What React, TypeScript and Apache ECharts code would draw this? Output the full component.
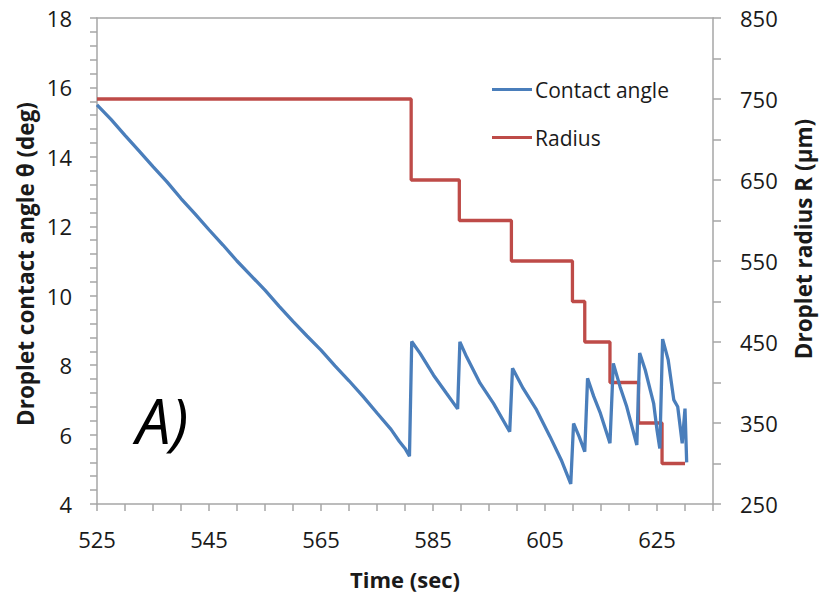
import React, { useEffect, useRef } from "react";
import * as echarts from "echarts";

// Contact angle (deg) vs time (sec)
const angleTimes = [
  525, 527.5, 530, 532.5, 535, 537.5, 540, 542.5, 545, 547.5, 550, 552.5, 555, 557.5, 560,
  562.5, 565, 567.5, 570, 572.5, 575, 577.5, 579, 580, 580.8,
  581.2, 582.7, 585.1, 587.4, 589.4,
  589.8, 591.0, 593.4, 595.8, 598.7,
  599.2, 601.1, 603.5, 605.9, 607.9, 609.6,
  610.1, 611.1, 612.1,
  612.6, 613.7, 614.9, 616.6,
  617.2, 618.4, 619.6, 621.4,
  621.9, 622.9, 623.8, 624.4, 625.0, 625.5,
  626.0, 627.0, 628.0, 628.7, 629.5,
  630.0, 630.3,
];
const angleValues = [
  15.5, 15.08, 14.62, 14.17, 13.72, 13.28, 12.8, 12.36, 11.9, 11.46, 11.0, 10.58, 10.16, 9.7, 9.26,
  8.84, 8.43, 7.98, 7.55, 7.1, 6.62, 6.15, 5.8, 5.6, 5.38,
  8.68, 8.34, 7.71, 7.19, 6.74,
  8.67, 8.24, 7.48, 6.9, 6.08,
  7.91, 7.33, 6.71, 5.94, 5.27, 4.58,
  6.32, 5.94, 5.51,
  7.62, 7.1, 6.61, 5.75,
  8.05, 7.38, 6.8, 5.7,
  8.35, 7.86, 7.28, 6.9, 6.13, 5.6,
  8.75, 8.15, 7.0, 6.8, 5.75,
  6.75, 5.2,
];

// Radius (µm): level held from each time until the next one
const radiusTimes = [525, 581.1, 589.7, 599.0, 609.9, 612.1, 616.6, 621.7, 625.9, 630.0];
const radiusValues = [750, 650, 600, 550, 500, 450, 400, 350, 300, 300];

// Axis ticks
const xMin = 525;
const xMax = 635;
const xLabelStep = 20;
const leftMin = 4;
const leftMax = 18;
const rightMin = 250;
const rightMax = 850;
const rightLabelStep = 100;

const FONT = "Open Sans";
const AXIS_GRAY = "#a6a6a6";

export default function App() {
  const ref = useRef<HTMLDivElement>(null);

  useEffect(() => {
    if (!ref.current) return;
    const chart = echarts.init(ref.current, null, { renderer: "svg" });
    const angleData = angleTimes.map((t, i) => [t, angleValues[i]]);
    const radiusData = radiusTimes.map((t, i) => [t, radiusValues[i]]);

    chart.setOption({
      animation: false,
      backgroundColor: "#ffffff",
      textStyle: { fontFamily: FONT },
      grid: { left: 97, right: 106, top: 18, bottom: 93, containLabel: false },
      legend: {
        orient: "vertical",
        left: 492,
        top: 79,
        padding: 0,
        itemGap: 27,
        itemWidth: 40,
        itemHeight: 3,
        icon: "rect",
        textStyle: { fontFamily: FONT, fontSize: 21, color: "#1a1a1a", padding: [0, 0, 0, -2] },
        data: ["Contact angle", "Radius"],
      },
      xAxis: [
        {
          type: "value",
          min: xMin,
          max: xMax,
          interval: 5,
          axisLine: { show: true, lineStyle: { color: AXIS_GRAY, width: 1.5 } },
          axisTick: { show: true, length: 7, lineStyle: { color: AXIS_GRAY, width: 1.5 } },
          splitLine: { show: false },
          axisLabel: {
            margin: 24,
            fontFamily: FONT,
            fontSize: 22,
            color: "#1a1a1a",
            formatter: (v: number) => ((v - xMin) % xLabelStep === 0 ? String(v) : ""),
          },
        },
        {
          type: "value",
          position: "top",
          min: xMin,
          max: xMax,
          axisLine: { show: true, lineStyle: { color: AXIS_GRAY, width: 1.5 } },
          axisTick: { show: false },
          axisLabel: { show: false },
          splitLine: { show: false },
        },
      ],
      yAxis: [
        {
          type: "value",
          position: "left",
          min: leftMin,
          max: leftMax,
          interval: 2,
          axisLine: { show: true, lineStyle: { color: AXIS_GRAY, width: 1.5 } },
          axisTick: { show: true, length: 7, lineStyle: { color: AXIS_GRAY, width: 1.5 } },
          minorTick: { show: true, splitNumber: 5, length: 7, lineStyle: { color: AXIS_GRAY, width: 1.5 } },
          splitLine: { show: false },
          axisLabel: { margin: 25, fontFamily: FONT, fontSize: 22, color: "#1a1a1a" },
        },
        {
          type: "value",
          position: "right",
          min: rightMin,
          max: rightMax,
          interval: 50,
          axisLine: { show: true, lineStyle: { color: AXIS_GRAY, width: 1.5 } },
          axisTick: { show: true, length: 8, lineStyle: { color: AXIS_GRAY, width: 1.5 } },
          splitLine: { show: false },
          axisLabel: {
            margin: 27,
            fontFamily: FONT,
            fontSize: 22,
            color: "#1a1a1a",
            formatter: (v: number) => ((v - rightMin) % rightLabelStep === 0 ? String(v) : ""),
          },
        },
      ],
      series: [
        {
          name: "Contact angle",
          type: "line",
          xAxisIndex: 0,
          yAxisIndex: 0,
          data: angleData,
          showSymbol: false,
          symbol: "none",
          lineStyle: { color: "#4a7ebb", width: 3.3 },
          itemStyle: { color: "#4a7ebb" },
          z: 3,
        },
        {
          name: "Radius",
          type: "line",
          xAxisIndex: 0,
          yAxisIndex: 1,
          step: "end",
          data: radiusData,
          showSymbol: false,
          symbol: "none",
          lineStyle: { color: "#be4b48", width: 3.3 },
          itemStyle: { color: "#be4b48" },
          z: 2,
        },
      ],
      graphic: [
        {
          type: "text",
          x: 25,
          y: 264,
          rotation: Math.PI / 2,
          style: {
            text: "Droplet contact angle θ (deg)",
            font: `bold 22.5px "${FONT}"`,
            fill: "#1a1a1a",
            align: "center",
            verticalAlign: "middle",
          },
        },
        {
          type: "text",
          x: 803,
          y: 239,
          rotation: Math.PI / 2,
          style: {
            text: "Droplet radius R (μm)",
            font: `bold 22.5px "${FONT}"`,
            fill: "#1a1a1a",
            align: "center",
            verticalAlign: "middle",
          },
        },
        {
          type: "text",
          x: 405,
          y: 579,
          style: {
            text: "Time (sec)",
            font: `bold 22px "${FONT}"`,
            fill: "#1a1a1a",
            align: "center",
            verticalAlign: "middle",
          },
        },
        {
          type: "text",
          x: 136,
          y: 420,
          style: {
            text: "A)",
            font: `italic 62px "${FONT}"`,
            fill: "#000000",
            align: "left",
            verticalAlign: "middle",
          },
        },
      ],
    });

    return () => chart.dispose();
  }, []);

  return <div ref={ref} style={{ width: 819, height: 597, position: "absolute", left: 0, top: 0 }} />;
}
